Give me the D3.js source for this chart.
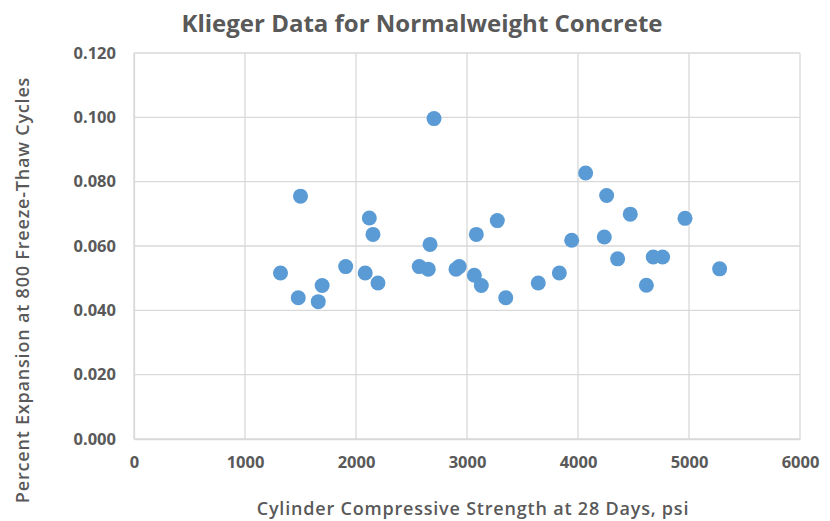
<!DOCTYPE html>
<html>
<head>
<meta charset="utf-8">
<script src="https://cdn.jsdelivr.net/npm/d3@7"></script>
<style>
  body { margin: 0; background: #fff; }
  text { font-family: "Open Sans", "Noto Sans", sans-serif; fill: #595959; }
</style>
</head>
<body>
<svg id="chart"></svg>
<script>
// compressive strength (psi) and expansion (%)
const strength = [1320, 1500, 1480, 1660, 1695, 1907, 2083, 2120, 2153, 2198,
    2570, 2651, 2667, 2703, 2901, 2930, 3066, 3084, 3129, 3273, 3349,
    3642, 3832, 3943, 4069, 4237, 4258, 4357, 4471, 4616, 4678, 4762, 4964, 5276];
const expansion = [0.0516, 0.0755, 0.0439, 0.0427, 0.0477, 0.0536, 0.0516, 0.0687, 0.0636, 0.0485,
    0.0536, 0.0528, 0.0605, 0.0996, 0.0528, 0.0536, 0.0509, 0.0636, 0.0477, 0.0679, 0.0439,
    0.0485, 0.0516, 0.0618, 0.0827, 0.0628, 0.0757, 0.0560, 0.0699, 0.0478, 0.0566, 0.0566, 0.0686, 0.0529];
const xTicks = [0, 1000, 2000, 3000, 4000, 5000, 6000];
const yTicks = [0, 0.02, 0.04, 0.06, 0.08, 0.10, 0.12];

const width = 830, height = 521;
const margin = { top: 53, right: 30, bottom: 82, left: 134 };

const svg = d3.select("#chart")
    .attr("width", width)
    .attr("height", height);

const x = d3.scaleLinear().domain([0, 6000]).range([margin.left, width - margin.right]);
const y = d3.scaleLinear().domain([0, 0.12]).range([height - margin.bottom, margin.top]);

// gridlines
svg.append("g")
    .selectAll("line.h")
    .data(yTicks)
    .join("line")
    .attr("x1", x(0)).attr("x2", x(6000))
    .attr("y1", d => y(d)).attr("y2", d => y(d))
    .attr("stroke", "#d9d9d9").attr("stroke-width", 1.3);

svg.append("g")
    .selectAll("line.v")
    .data(xTicks)
    .join("line")
    .attr("x1", d => x(d)).attr("x2", d => x(d))
    .attr("y1", y(0)).attr("y2", y(0.12))
    .attr("stroke", "#d9d9d9").attr("stroke-width", 1.3);

// axes
const xAxis = svg.append("g")
    .attr("transform", `translate(0, ${y(0)})`)
    .call(d3.axisBottom(x).tickValues(xTicks).tickSize(0).tickPadding(17).tickFormat(d3.format("d")));
const yAxis = svg.append("g")
    .attr("transform", `translate(${x(0)}, 0)`)
    .call(d3.axisLeft(y).tickValues(yTicks).tickSize(0).tickPadding(18).tickFormat(d3.format(".3f")));

[xAxis, yAxis].forEach(g => {
    g.select(".domain").attr("stroke", "#d9d9d9").attr("stroke-width", 1.3);
    g.selectAll("text")
        .style("font-size", "16.5px")
        .style("font-weight", "bold")
        .attr("fill", "#595959");
});

// points
svg.append("g")
    .selectAll("circle")
    .data(strength.map((s, i) => [s, expansion[i]]))
    .join("circle")
    .attr("cx", d => x(d[0]))
    .attr("cy", d => y(d[1]))
    .attr("r", 7.5)
    .attr("fill", "#5b9bd5");

// titles
svg.append("text")
    .attr("x", 422).attr("y", 32)
    .attr("text-anchor", "middle")
    .style("font-size", "24px")
    .style("font-weight", "bold")
    .text("Klieger Data for Normalweight Concrete");

svg.append("text")
    .attr("x", 473).attr("y", 515)
    .attr("text-anchor", "middle")
    .style("font-size", "18px")
    .style("font-weight", "600")
    .style("letter-spacing", "0.8px")
    .text("Cylinder Compressive Strength at 28 Days, psi");

svg.append("text")
    .attr("transform", "translate(29, 290) rotate(-90)")
    .attr("text-anchor", "middle")
    .style("font-size", "18px")
    .style("font-weight", "600")
    .style("letter-spacing", "0.8px")
    .text("Percent Expansion at 800 Freeze-Thaw Cycles");
</script>
</body>
</html>
